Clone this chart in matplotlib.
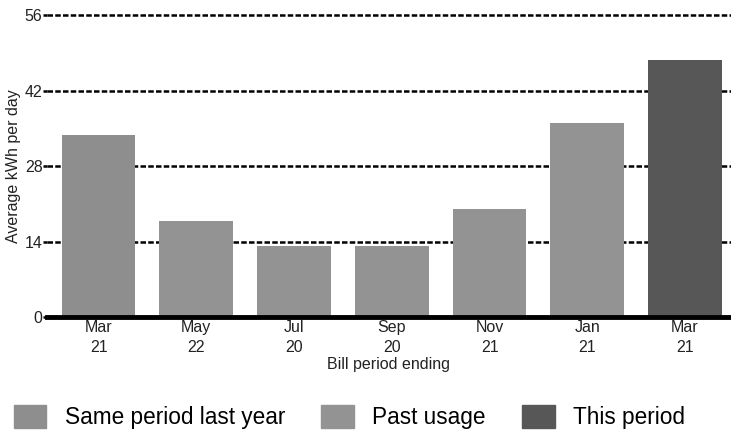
import matplotlib.pyplot as plt
from matplotlib.patches import Patch

plt.rcParams['font.family'] = ['Liberation Sans', 'DejaVu Sans']

# Bill periods and average daily usage
months = ['Mar', 'May', 'Jul', 'Sep', 'Nov', 'Jan', 'Mar']
years = ['21', '22', '20', '20', '21', '21', '21']
usage = [33.8, 17.8, 13.2, 13.2, 20.0, 36.0, 47.7]
kinds = ['same', 'past', 'past', 'past', 'past', 'past', 'this']

yticks = [0, 14, 28, 42, 56]

colors = {'same': '#8e8e8e', 'past': '#939393', 'this': '#575757'}
names = {'same': 'Same period last year', 'past': 'Past usage', 'this': 'This period'}

fig = plt.figure(figsize=(7.31, 4.32), dpi=100)
ax = fig.add_axes([0.064, 0.266, 0.936, 0.699])

x = range(len(usage))
for y in yticks[1:]:
    ax.axhline(y, color='black', lw=1.8, ls=(0, (2.2, 0.9)), zorder=1, clip_on=False)
ax.bar(x, usage, width=0.755, color=[colors[k] for k in kinds], zorder=2)
ax.axhline(0, color='black', lw=3.5, zorder=3, clip_on=False)

ax.set_xlim(-0.53, 6.47)
ax.set_ylim(0, 56)
ax.set_yticks(yticks)
ax.set_yticklabels([str(v) for v in yticks], fontsize=11.5, color='#222222')
ax.set_xticks(list(x))
ax.set_xticklabels([m + '\n' + yr for m, yr in zip(months, years)],
                   fontsize=11.5, color='#222222', linespacing=1.45)
ax.tick_params(axis='x', length=0, pad=2)
ax.tick_params(axis='y', length=3, width=1.8, pad=0)
for s in ax.spines.values():
    s.set_visible(False)

ax.set_ylabel('Average kWh per day', fontsize=11.5, color='#222222', labelpad=3)
ax.set_xlabel('Bill period ending', fontsize=11.5, color='#222222', labelpad=1)

handles = [Patch(color=colors[k]) for k in ['same', 'past', 'this']]
fig.legend(handles, [names[k] for k in ['same', 'past', 'this']],
           loc='lower left', bbox_to_anchor=(0.0, -0.025), ncol=3, frameon=False,
           fontsize=16.3, handlelength=1.45, handleheight=1.2, handletextpad=0.8,
           columnspacing=1.6, borderaxespad=0.2)

fig.savefig('out.png', dpi=100)
